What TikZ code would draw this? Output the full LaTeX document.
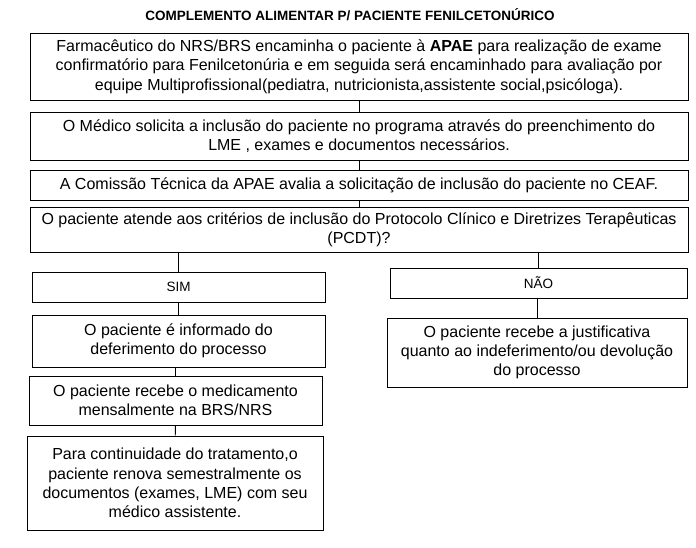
\documentclass[tikz,border=0pt]{standalone}
\usepackage{fontspec}
\setmainfont{Liberation Sans}
\begin{document}
\begin{tikzpicture}[x=1pt,y=-1pt,
  box/.style={draw, line width=0.9pt, align=center, inner sep=0pt,
    font=\fontsize{16}{19.3}\selectfont},
  small/.style={box, font=\fontsize{13.5}{15}\selectfont},
  link/.style={line width=0.9pt}]
  \useasboundingbox (0,0) rectangle (696,547);

  % Title
  \node[font=\bfseries\fontsize{13.5}{15}\selectfont] (title) at (350,15)
    {COMPLEMENTO ALIMENTAR P/ PACIENTE FENILCETONÚRICO};

  % Main column
  \node[box, minimum width=658pt, minimum height=67pt] (farm) at (359,66.5)
    {Farmacêutico do NRS/BRS encaminha o paciente à \textbf{APAE} para realização de exame\\
     confirmatório para Fenilcetonúria e em seguida será encaminhado para avaliação por\\
     equipe Multiprofissional(pediatra, nutricionista,assistente social,psicóloga).};
  \node[box, minimum width=658pt, minimum height=48pt] (medico) at (359,136)
    {O Médico solicita a inclusão do paciente no programa através do preenchimento do\\
     LME , exames e documentos necessários.};
  \node[box, minimum width=658pt, minimum height=30pt] (comissao) at (359,185)
    {A Comissão Técnica da APAE avalia a solicitação de inclusão do paciente no CEAF.};
  \node[box, minimum width=658pt, minimum height=45pt] (pcdt) at (359,229.5)
    {O paciente atende aos critérios de inclusão do Protocolo Clínico e Diretrizes Terapêuticas\\
     (PCDT)?};

  % Left branch
  \node[small, minimum width=293pt, minimum height=30pt] (sim) at (178.5,287) {SIM};
  \node[box, minimum width=293pt, minimum height=52pt] (informado) at (178.5,341)
    {O paciente é informado do\\ deferimento do processo};
  \node[box, minimum width=293pt, minimum height=49pt] (medicamento) at (175.5,400.5)
    {O paciente recebe o medicamento\\ mensalmente na BRS/NRS};
  \node[box, minimum width=296pt, minimum height=94pt] (continuidade) at (175,483)
    {Para continuidade do tratamento,o\\ paciente renova semestralmente os\\
     documentos (exames, LME) com seu\\ médico assistente.};

  % Right branch
  \node[small, minimum width=297pt, minimum height=30pt] (nao) at (538.5,283) {NÃO};
  \node[box, minimum width=300pt, minimum height=69pt] (justif) at (537,352.5)
    {O paciente recebe a justificativa\\ quanto ao indeferimento/ou devolução\\ do processo};

  % Connectors
  \draw[link] (farm) -- (medico);
  \draw[link] (medico) -- (comissao);
  \draw[link] (comissao) -- (pcdt);
  \draw[link] (pcdt.south -| sim.north) -- (sim);
  \draw[link] (pcdt.south -| nao.north) -- (nao);
  \draw[link] (sim) -- (informado);
  \draw[link] (informado.south -| medicamento.north) -- (medicamento);
  \draw[link] (medicamento) -- (continuidade);
  \draw[link] (nao.south -| justif.north) -- (justif);
\end{tikzpicture}
\end{document}
